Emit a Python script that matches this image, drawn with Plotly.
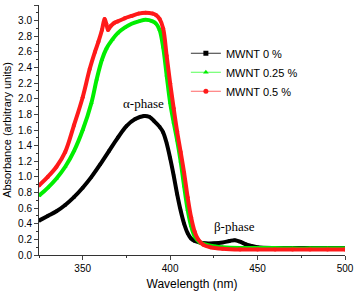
import plotly.graph_objects as go

# MWNT 0 %
wl_0 = [325, 330, 335, 340, 345, 350, 355, 360, 365, 370, 375, 380, 385, 388, 391,
        394, 396, 398, 400, 402, 404, 406, 408, 410, 412, 414, 417, 420, 425, 430,
        434, 437, 440, 443, 446, 450, 460, 470, 480, 490, 500]
abs_0 = [0.44, 0.50, 0.56, 0.64, 0.74, 0.86, 1.00, 1.16, 1.33, 1.50, 1.65, 1.74, 1.78, 1.77, 1.71,
         1.64, 1.57, 1.43, 1.24, 1.02, 0.78, 0.57, 0.40, 0.28, 0.21, 0.18, 0.16, 0.15, 0.15, 0.16,
         0.18, 0.19, 0.17, 0.14, 0.12, 0.10, 0.09, 0.09, 0.09, 0.09, 0.09]

# MWNT 0.25 %
wl_25 = [325, 330, 335, 340, 345, 350, 355, 358, 361, 363.5, 367, 370, 374, 378, 382, 386,
         390, 392, 394, 396, 398, 400, 402, 404, 406, 408, 410, 412, 414, 417, 421, 426,
         430, 440, 450, 460, 470, 480, 490, 500]
abs_25 = [0.76, 0.86, 0.98, 1.13, 1.33, 1.60, 1.95, 2.25, 2.50, 2.64, 2.76, 2.84, 2.91, 2.96, 2.99, 3.01,
          2.99, 2.96, 2.88, 2.66, 2.30, 1.95, 1.70, 1.47, 1.20, 0.88, 0.58, 0.37, 0.24, 0.16, 0.13, 0.11,
          0.10, 0.09, 0.09, 0.09, 0.085, 0.085, 0.085, 0.085]

# MWNT 0.5 %
wl_50 = [325, 330, 335, 340, 345, 350, 354, 357, 359, 361, 362.5, 363.5, 364.5, 366, 368, 370,
         374, 378, 382, 386, 390, 392, 394, 396, 398, 400, 402, 404, 406, 408, 410, 412, 414,
         416, 419, 423, 430, 440, 450, 460, 470, 480, 490, 500]
abs_50 = [0.89, 1.00, 1.13, 1.32, 1.66, 2.02, 2.38, 2.60, 2.73, 2.88, 3.02, 2.96, 2.88, 2.93, 2.97, 2.99,
          3.03, 3.06, 3.09, 3.10, 3.09, 3.07, 3.02, 2.90, 2.55, 2.20, 1.88, 1.58, 1.32, 1.05, 0.74, 0.48, 0.30,
          0.20, 0.13, 0.10, 0.08, 0.07, 0.07, 0.07, 0.07, 0.07, 0.07, 0.07]

series_names = ["MWNT 0 %", "MWNT 0.25 %", "MWNT 0.5 %"]
series_colors = ["#000000", "#00ee00", "#ff1a1a"]
legend_line_colors = ["#333333", "#55ff55", "#ff6666"]
series_symbols = ["square", "triangle-up", "circle"]
marker_sizes = [3, 4, 4]

x_ticks = [350, 400, 450, 500]
y_ticks = [round(i * 0.2, 1) for i in range(17)]

fig = go.Figure()
for wl, ab, name, col, sym, ms in zip([wl_0, wl_25, wl_50], [abs_0, abs_25, abs_50],
                                      series_names, series_colors, series_symbols, marker_sizes):
    fig.add_trace(go.Scatter(x=wl, y=ab, name=name, mode="lines+markers", showlegend=False,
                             line=dict(color=col, width=4, shape="spline"),
                             marker=dict(symbol=sym, size=ms, color=col)))

# legend entries (thin line with marker, as in the reference legend)
for name, col, lcol, sym in zip(series_names, series_colors, legend_line_colors, series_symbols):
    fig.add_trace(go.Scatter(x=[None], y=[None], name=name, mode="lines+markers",
                             line=dict(color=lcol, width=1),
                             marker=dict(symbol=sym, size=5, color=col)))

fig.add_annotation(x=384.5, y=1.94, text="α-phase", showarrow=False,
                   font=dict(family="Liberation Serif, Times New Roman, serif", size=13, color="#000"))
fig.add_annotation(x=437, y=0.37, text="β-phase", showarrow=False,
                   font=dict(family="Liberation Serif, Times New Roman, serif", size=13, color="#000"))

fig.update_layout(
    width=354, height=292,
    margin=dict(l=39, r=9, t=5, b=37, autoexpand=False),
    paper_bgcolor="white", plot_bgcolor="white",
    font=dict(family="Liberation Sans, Arial, sans-serif", size=10, color="#000"),
    showlegend=True,
    legend=dict(x=0.48, y=0.865, xanchor="left", yanchor="top",
                bgcolor="rgba(0,0,0,0)", font=dict(size=11), tracegroupgap=0),
    xaxis=dict(range=[325, 500], tickvals=x_ticks, ticks="outside", ticklen=4, automargin=False,
               showline=True, linecolor="#333", linewidth=1, showgrid=False, zeroline=False,
               minor=dict(ticks="outside", dtick=25, tick0=325, ticklen=2, tickcolor="#333"),
               title=dict(text="Wavelength (nm)", font=dict(size=12), standoff=6)),
    yaxis=dict(range=[0, 3.2], tickvals=y_ticks, tickformat=".1f", ticks="outside", ticklen=4,
               automargin=False,
               showline=True, linecolor="#333", linewidth=1, showgrid=False, zeroline=False,
               minor=dict(ticks="outside", dtick=0.1, ticklen=2, tickcolor="#333"),
               title=dict(text="Absorbance (arbitrary units)", font=dict(size=11), standoff=4)),
)

fig.write_html("out.html", config={"displayModeBar": False, "staticPlot": True},
               post_script="document.body.style.margin='0';document.body.style.overflow='hidden';")
